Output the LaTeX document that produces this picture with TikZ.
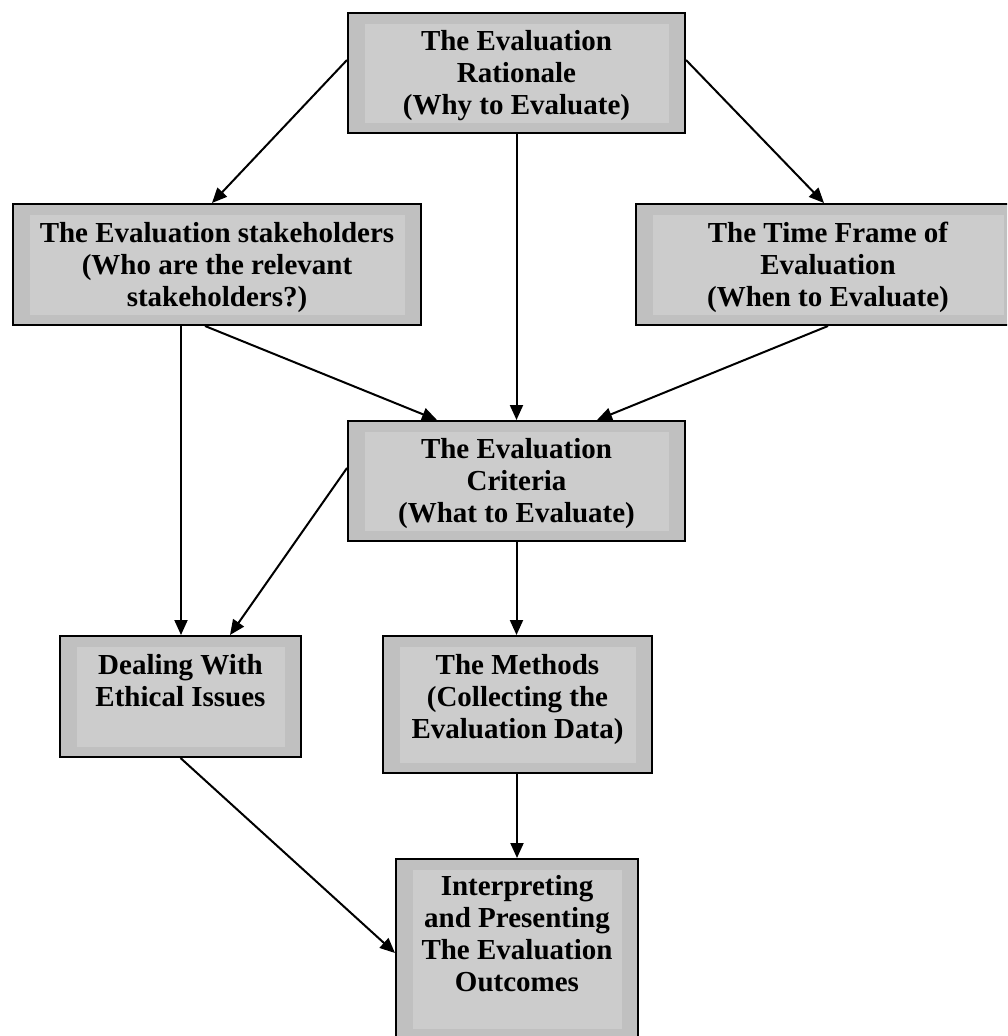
\documentclass[tikz,border=0pt]{standalone}
\usepackage{fontspec}
\setmainfont{Liberation Serif}
\usetikzlibrary{arrows.meta}
\definecolor{outergray}{RGB}{192,192,192}
\definecolor{innergray}{RGB}{204,204,204}
\tikzset{
  box/.style={draw=black, line width=2pt, fill=outergray, inner sep=0pt,
    path picture={\fill[innergray] ([xshift=17pt,yshift=-11pt]path picture bounding box.north west) rectangle ([xshift=-16pt,yshift=10pt]path picture bounding box.south east);}},
  lbl/.style={anchor=north, inner sep=0pt, align=center, text=black,
    font=\fontsize{29}{32}\selectfont\bfseries},
  conn/.style={draw=black, line width=2pt, -{Triangle[length=15pt,width=13pt]}}
}
\begin{document}
\begin{tikzpicture}[x=1pt,y=1pt]
\clip (0,0) rectangle (1007,-1036);
\fill[white] (0,0) rectangle (1007,-1036);
% boxes
\node[box, minimum width=337pt, minimum height=120pt] (rat) at (516.5,-73) {};
\node[box, minimum width=408pt, minimum height=121pt] (stk) at (217,-264.5) {};
\node[box, minimum width=384pt, minimum height=121pt] (tim) at (828,-264.5) {};
\node[box, minimum width=337pt, minimum height=120pt] (crit) at (516.5,-481) {};
\node[box, minimum width=241pt, minimum height=121pt] (eth) at (180.5,-696.5) {};
\node[box, minimum width=269pt, minimum height=137pt] (meth) at (517.5,-704.5) {};
\node[box, minimum width=242pt, minimum height=180pt] (out) at (517,-949) {};
% labels
\node[lbl] (rat-t) at ([yshift=-18pt]rat.north) {The Evaluation\\Rationale\\(Why to Evaluate)};
\node[lbl] (stk-t) at ([yshift=-19pt]stk.north) {The Evaluation stakeholders\\(Who are the relevant\\stakeholders?)};
\node[lbl] (tim-t) at ([yshift=-19pt]tim.north) {The Time Frame of\\Evaluation\\(When to Evaluate)};
\node[lbl] (crit-t) at ([yshift=-18pt]crit.north) {The Evaluation\\Criteria\\(What to Evaluate)};
\node[lbl] (eth-t) at ([yshift=-19pt]eth.north) {Dealing With\\Ethical Issues};
\node[lbl] (meth-t) at ([yshift=-19pt]meth.north) {The Methods\\(Collecting the\\Evaluation Data)};
\node[lbl] (out-t) at ([yshift=-17pt]out.north) {Interpreting\\and Presenting\\The Evaluation\\Outcomes};
% connectors
\draw[conn] ([yshift=13pt]rat.west) -- ([xshift=-5pt]stk.north);
\draw[conn] ([yshift=13pt]rat.east) -- ([xshift=-4pt]tim.north);
\draw[conn] (rat.south) -- (crit.north);
\draw[conn] ([xshift=-12pt]stk.south) -- ([xshift=-79.5pt]crit.north);
\draw[conn] (tim.south) -- ([xshift=80.5pt]crit.north);
\draw[conn] ([xshift=-36pt]stk.south) -- ([xshift=0.5pt]eth.north);
\draw[conn] ([yshift=13pt]crit.west) -- ([xshift=49.5pt]eth.north);
\draw[conn] (crit.south) -- ([xshift=-1pt]meth.north);
\draw[conn] (eth.south) -- ([yshift=-4pt]out.west);
\draw[conn] ([xshift=-0.5pt]meth.south) -- (out.north);
\end{tikzpicture}
\end{document}
